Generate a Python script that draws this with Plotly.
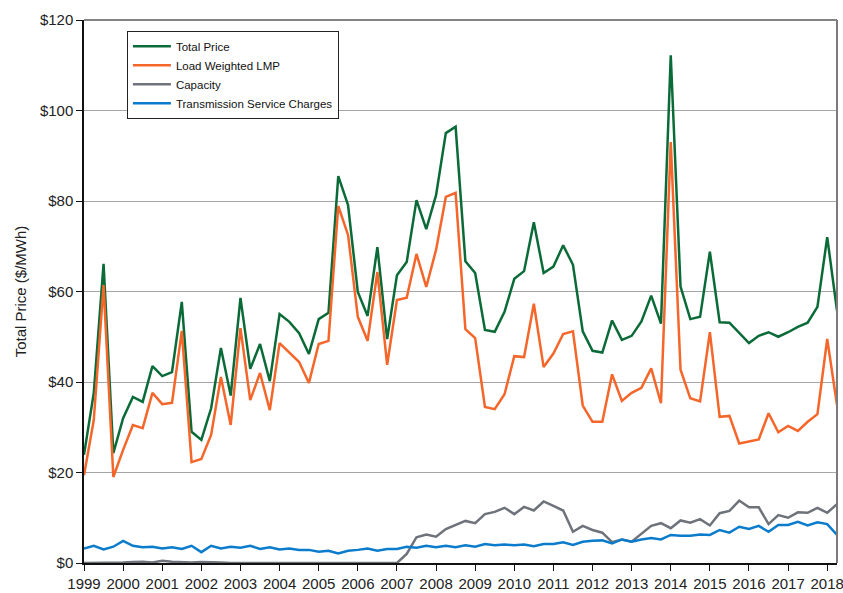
import plotly.graph_objects as go

# Quarterly periods 1999 Q1 .. 2018 Q2
years = list(range(1999, 2019))
quarter_offsets = [0.0, 0.25, 0.5, 0.75]
n_points = 78
periods = [y + q for y in years for q in quarter_offsets][:n_points]

total_price = [
    23.9, 37.6, 66.1, 24.3, 32.0, 36.7, 35.6, 43.5, 41.3, 42.2,
    57.7, 29.0, 27.2, 34.2, 47.5, 37.0, 58.6, 42.9, 48.4, 40.2,
    55.0, 53.3, 50.8, 46.2, 53.9, 55.3, 85.5, 79.1, 59.9, 54.6,
    69.8, 49.5, 63.6, 66.5, 80.2, 73.8, 81.3, 95.0, 96.4, 66.7,
    64.1, 51.5, 51.1, 55.5, 62.8, 64.5, 75.3, 64.1, 65.5, 70.2,
    65.9, 51.2, 46.9, 46.5, 53.6, 49.3, 50.2, 53.4, 59.1, 52.9,
    112.2, 61.1, 53.9, 54.4, 68.8, 53.2, 53.1, 50.8, 48.6, 50.2,
    51.0, 50.0, 51.0, 52.2, 53.1, 56.6, 72.0, 55.8,
]

load_weighted_lmp = [
    19.4, 31.6, 61.4, 19.0, 25.0, 30.5, 29.8, 37.6, 35.1, 35.4,
    51.3, 22.3, 23.0, 28.3, 41.1, 30.5, 51.9, 36.0, 42.0, 33.8,
    48.6, 46.4, 44.4, 39.8, 48.4, 49.1, 78.9, 72.5, 54.4, 49.1,
    64.3, 43.8, 58.1, 58.6, 68.3, 61.0, 69.2, 80.9, 81.8, 51.7,
    49.7, 34.5, 34.0, 37.3, 45.7, 45.5, 57.3, 43.3, 46.3, 50.6,
    51.2, 34.8, 31.2, 31.2, 41.7, 35.8, 37.6, 38.7, 43.0, 35.3,
    93.0, 42.7, 36.4, 35.7, 51.0, 32.3, 32.5, 26.4, 26.8, 27.3,
    33.1, 28.9, 30.3, 29.2, 31.2, 32.9, 49.5, 34.9,
]

capacity = [
    0.0, 0.0, 0.0, 0.0, 0.1, 0.2, 0.3, 0.1, 0.5, 0.3,
    0.2, 0.1, 0.2, 0.2, 0.1, 0.0, 0.0, 0.0, 0.1, 0.0,
    0.0, 0.1, 0.0, 0.0, 0.0, 0.0, 0.0, 0.0, 0.0, 0.0,
    0.0, 0.0, 0.0, 2.0, 5.7, 6.3, 5.8, 7.5, 8.4, 9.3,
    8.8, 10.8, 11.3, 12.2, 10.8, 12.4, 11.6, 13.6, 12.6, 11.6,
    6.9, 8.2, 7.3, 6.7, 4.6, 5.2, 4.7, 6.5, 8.2, 8.8,
    7.7, 9.4, 8.9, 9.7, 8.3, 11.0, 11.5, 13.8, 12.3, 12.3,
    8.6, 10.6, 10.0, 11.2, 11.1, 12.2, 11.1, 13.0,
]

transmission = [
    3.2, 3.8, 3.0, 3.6, 4.9, 3.8, 3.5, 3.6, 3.2, 3.5,
    3.1, 3.8, 2.4, 3.8, 3.2, 3.6, 3.4, 3.8, 3.1, 3.5,
    3.0, 3.2, 2.9, 2.9, 2.5, 2.7, 2.1, 2.7, 2.9, 3.2,
    2.7, 3.1, 3.1, 3.6, 3.4, 3.8, 3.5, 3.8, 3.5, 3.9,
    3.6, 4.2, 3.9, 4.1, 3.9, 4.1, 3.7, 4.2, 4.2, 4.6,
    4.0, 4.7, 4.9, 5.0, 4.3, 5.2, 4.7, 5.2, 5.5, 5.2,
    6.2, 6.0, 6.0, 6.3, 6.2, 7.3, 6.7, 8.0, 7.5, 8.2,
    6.9, 8.4, 8.4, 9.1, 8.3, 9.0, 8.6, 6.2,
]

series_names = ["Total Price", "Load Weighted LMP", "Capacity", "Transmission Service Charges"]
series_values = [total_price, load_weighted_lmp, capacity, transmission]
series_colors = ["#0B6B38", "#F4662A", "#6E737B", "#0B7BCB"]

y_ticks = [0, 20, 40, 60, 80, 100, 120]
x_ticks = years

FONT = "Liberation Sans, Arial, sans-serif"

fig = go.Figure()
for name, vals, col in zip(series_names, series_values, series_colors):
    fig.add_trace(go.Scatter(
        x=periods, y=vals, mode="lines", name=name, legendgroup=name,
        line=dict(color=col, width=2.5),
    ))

fig.update_layout(
    width=843, height=593,
    margin=dict(l=84, r=6, t=20, b=30),
    paper_bgcolor="white", plot_bgcolor="white",
    font=dict(family=FONT, color="#222222", size=15),
    showlegend=True,
    legend=dict(
        x=0.057, y=0.98, xanchor="left", yanchor="top",
        bgcolor="white", bordercolor="#222222", borderwidth=1,
        font=dict(family=FONT, size=11.5, color="#111111"),
        tracegroupgap=0, itemwidth=38,
    ),
    xaxis=dict(
        range=[1999, 2018.25], tickmode="array", tickvals=x_ticks,
        ticktext=[str(y) for y in x_ticks], tickangle=0, automargin=False,
        ticklabeloverflow="allow",
        showgrid=False, zeroline=False,
        showline=True, linecolor="#111111", linewidth=1.5,
        ticks="outside", ticklen=6, tickcolor="#111111",
        tickfont=dict(family=FONT, size=15, color="#222222"),
    ),
    yaxis=dict(
        range=[0, 120], tickmode="array", tickvals=y_ticks,
        ticktext=["$" + str(v) for v in y_ticks], automargin=False,
        ticklabeloverflow="allow",
        showgrid=True, gridcolor="#A6A6A6", gridwidth=1,
        zeroline=False,
        showline=True, linecolor="#111111", linewidth=1.5,
        ticks="outside", ticklen=6, tickcolor="#111111",
        tickfont=dict(family=FONT, size=15, color="#222222"),
        title=dict(text="Total Price ($/MWh)", font=dict(family=FONT, size=15, color="#222222"), standoff=10),
    ),
)

# plot frame: top and right edges
fig.add_shape(type="line", xref="paper", yref="paper", x0=0, x1=1, y0=1, y1=1,
              line=dict(color="#5A5A5A", width=1.5))
fig.add_shape(type="line", xref="paper", yref="paper", x0=1, x1=1, y0=0, y1=1,
              line=dict(color="#7A7A7A", width=2))

# remove the default page margin so the 843x593 figure fills the window exactly
fig.write_html(
    "out.html",
    config={"displayModeBar": False},
    post_script="document.body.style.margin='0';document.body.style.overflow='hidden';",
)
